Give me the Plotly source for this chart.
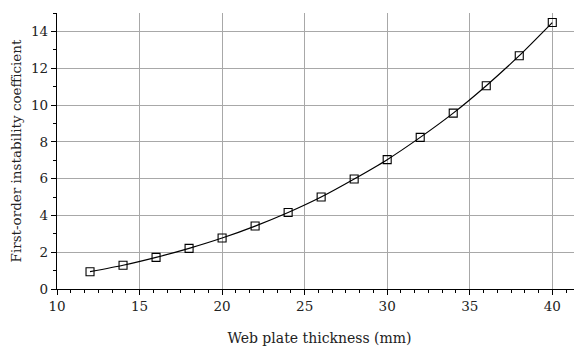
import plotly.graph_objects as go

thickness = [12, 14, 16, 18, 20, 22, 24, 26, 28, 30, 32, 34, 36, 38, 40]
coefficient = [0.94, 1.29, 1.72, 2.21, 2.77, 3.42, 4.16, 5.0, 5.98, 7.03, 8.24, 9.56, 11.05, 12.68, 14.48]

FONT = "DejaVu Serif"
TXT = "#222"

fig = go.Figure()
fig.add_trace(go.Scatter(
    x=thickness, y=coefficient, mode="lines+markers",
    line=dict(color="black", width=1.2, shape="spline", smoothing=0.6),
    marker=dict(symbol="square-open", size=8, color="black", line=dict(width=1.1)),
    showlegend=False,
))

# page body has an 8px default margin, so the figure is 8px smaller and shifted
fig.update_layout(
    width=574, height=341,
    margin=dict(l=49, r=0, t=5, b=60, autoexpand=False),
    paper_bgcolor="white", plot_bgcolor="white",
    font=dict(family=FONT, size=13, color=TXT),
)
fig.update_xaxes(
    range=[10, 41.8], dtick=5, tick0=10, automargin=False,
    showgrid=True, gridcolor="#a8a8a8", gridwidth=1.2,
    showline=True, linecolor="black", linewidth=1.2,
    ticks="outside", ticklen=5, tickcolor="black", tickwidth=1.2,
    minor=dict(dtick=5/6, tick0=10, ticks="outside", ticklen=3, tickcolor="black", showgrid=False),
    tickfont=dict(family=FONT, size=13.5, color=TXT),
    title=dict(text="Web plate thickness (mm)", font=dict(family=FONT, size=14, color=TXT), standoff=19),
    zeroline=False,
)
fig.update_yaxes(
    range=[0, 15], dtick=2, tick0=0, automargin=False,
    showgrid=True, gridcolor="#a8a8a8", gridwidth=1.2,
    showline=True, linecolor="black", linewidth=1.2,
    ticks="outside", ticklen=5, tickcolor="black", tickwidth=1.2,
    minor=dict(dtick=1, ticks="outside", ticklen=3, tickcolor="black", showgrid=False),
    tickfont=dict(family=FONT, size=13.5, color=TXT),
    title=dict(text="First-order instability coefficient", font=dict(family=FONT, size=13.5, color=TXT), standoff=6),
    zeroline=False,
)

fig.write_html("out.html")
